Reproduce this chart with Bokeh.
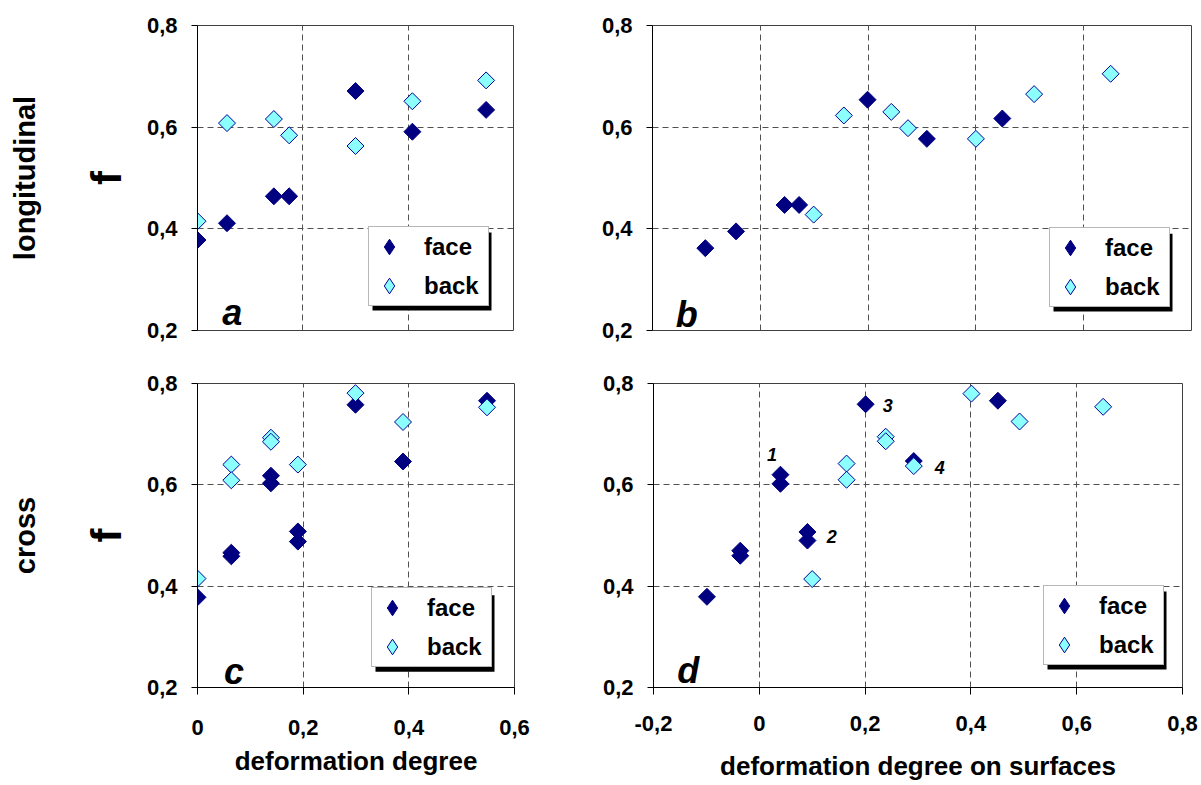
import math
from bokeh.plotting import figure
from bokeh.models import (Range1d, FixedTicker, CustomJSTickFormatter, Legend, LegendItem,
                          Label, BoxAnnotation, CDSView, IndexFilter, ColumnDataSource,
                          LinearAxis)
from bokeh.layouts import column, row
from bokeh.embed import file_html
from bokeh.resources import INLINE

FONT = "Liberation Sans"

# ---------------- data ----------------
# panel a : longitudinal, f vs deformation degree
a_face_x = [0.0, 0.056, 0.145, 0.174, 0.300, 0.408, 0.548]
a_face_y = [0.378, 0.411, 0.464, 0.464, 0.671, 0.591, 0.634]
a_back_x = [0.0, 0.056, 0.145, 0.174, 0.300, 0.408, 0.548]
a_back_y = [0.415, 0.608, 0.616, 0.584, 0.563, 0.651, 0.692]

# panel b : longitudinal, f vs deformation degree on surfaces
b_face_x = [-0.102, -0.045, 0.045, 0.072, 0.199, 0.309, 0.449]
b_face_y = [0.362, 0.395, 0.447, 0.447, 0.654, 0.577, 0.617]
b_back_x = [0.099, 0.155, 0.243, 0.274, 0.400, 0.508, 0.650]
b_back_y = [0.428, 0.623, 0.630, 0.598, 0.577, 0.665, 0.705]

# panel c : cross, f vs deformation degree
c_face_x = [0.0, 0.064, 0.064, 0.139, 0.139, 0.190, 0.190, 0.299, 0.389, 0.548]
c_face_y = [0.378, 0.466, 0.459, 0.618, 0.603, 0.508, 0.488, 0.758, 0.646, 0.766]
c_back_x = [0.0, 0.064, 0.064, 0.139, 0.139, 0.190, 0.299, 0.389, 0.548]
c_back_y = [0.415, 0.640, 0.609, 0.693, 0.685, 0.640, 0.781, 0.724, 0.753]

# panel d : cross, f vs deformation degree on surfaces
d_face_x = [-0.099, -0.036, -0.036, 0.040, 0.040, 0.091, 0.091, 0.201, 0.292, 0.451]
d_face_y = [0.379, 0.470, 0.460, 0.620, 0.602, 0.507, 0.490, 0.759, 0.647, 0.766]
d_back_x = [0.100, 0.165, 0.165, 0.239, 0.239, 0.292, 0.401, 0.492, 0.650]
d_back_y = [0.414, 0.642, 0.610, 0.695, 0.686, 0.637, 0.780, 0.725, 0.754]

# point-group annotations in panel d
d_note_text = ["1", "2", "3", "4"]
d_note_x = [0.024, 0.137, 0.243, 0.341]
d_note_y = [0.660, 0.498, 0.756, 0.635]

y_ticks = [0.2, 0.4, 0.6, 0.8]
x_ticks_ac = [0.0, 0.2, 0.4, 0.6]
x_ticks_bd = [-0.2, 0.0, 0.2, 0.4, 0.6, 0.8]

FACE_FILL = "#000080"
FACE_LINE = "#000080"
BACK_FILL = "#8CFFFF"
BACK_LINE = "#000099"


def fmt():
    return CustomJSTickFormatter(
        code="if (Math.abs(tick) < 1e-9) { return '0'; } return tick.toFixed(1).replace('.', ',');")


def panel(width, height, mb, xr, xticks, fx, fy, bx, by, leg_loc, letter, letter_xy,
          show_x, xlabel=None, ylabel=None, row_title=None, row_title_standoff=39,
          tick_standoff=16, label_standoff=14):
    ml, mr, mt, mbot = mb
    p = figure(width=width, height=height, x_range=Range1d(*xr), y_range=Range1d(0.2, 0.8),
               output_backend="svg", toolbar_location=None,
               min_border_left=ml, min_border_right=mr, min_border_top=mt, min_border_bottom=mbot)
    p.background_fill_color = "white"
    p.border_fill_color = "white"
    p.outline_line_color = "#404040"
    p.outline_line_width = 1

    for g in (p.xgrid[0], p.ygrid[0]):
        g.grid_line_color = "#505050"
        g.grid_line_dash = "6 4"
        g.grid_line_width = 1
    p.xgrid[0].ticker = FixedTicker(ticks=xticks)
    p.ygrid[0].ticker = FixedTicker(ticks=y_ticks)

    ya = p.yaxis[0]
    ya.ticker = FixedTicker(ticks=y_ticks)
    ya.formatter = fmt()
    ya.major_tick_out = 6
    ya.major_tick_in = 0
    ya.minor_tick_out = 0
    ya.minor_tick_in = 0
    ya.major_label_standoff = 14
    ya.major_label_text_font = FONT
    ya.major_label_text_font_size = "22px"
    ya.major_label_text_font_style = "bold"
    ya.major_label_text_color = "black"
    ya.axis_line_color = "black"
    if ylabel:
        ya.axis_label = ylabel
        ya.axis_label_text_font = FONT
        ya.axis_label_text_font_size = "42px"
        ya.axis_label_text_font_style = "bold"
        ya.axis_label_text_color = "black"
        ya.axis_label_standoff = 14

    if row_title:
        ex = LinearAxis(axis_label=row_title, ticker=FixedTicker(ticks=[]),
                        axis_line_color=None, major_tick_out=0, major_tick_in=0,
                        minor_tick_out=0, minor_tick_in=0,
                        major_label_text_font_size="0px",
                        axis_label_standoff=row_title_standoff,
                        axis_label_text_font=FONT, axis_label_text_font_size="29px",
                        axis_label_text_font_style="bold", axis_label_text_color="black")
        p.add_layout(ex, "left")

    xa = p.xaxis[0]
    if show_x:
        xa.ticker = FixedTicker(ticks=xticks)
        xa.formatter = fmt()
        xa.major_tick_out = 7
        xa.major_tick_in = 0
        xa.minor_tick_out = 0
        xa.minor_tick_in = 0
        xa.major_label_standoff = tick_standoff
        xa.major_label_text_font = FONT
        xa.major_label_text_font_size = "22px"
        xa.major_label_text_font_style = "bold"
        xa.major_label_text_color = "black"
        xa.axis_line_color = "black"
        if xlabel:
            xa.axis_label = xlabel
            xa.axis_label_text_font = FONT
            xa.axis_label_text_font_size = "26px"
            xa.axis_label_text_font_style = "bold"
            xa.axis_label_text_color = "black"
            xa.axis_label_standoff = label_standoff
    else:
        xa.visible = False

    # legend swatches: diamond shaped; only the first point is kept, hidden under the markers
    lf = p.scatter(source=ColumnDataSource(dict(x=fx, y=fy)), x="x", y="y",
                   view=CDSView(filter=IndexFilter(indices=[0])), marker="diamond", size=3,
                   fill_color=FACE_FILL, line_color=FACE_LINE, line_width=1)
    lb = p.scatter(source=ColumnDataSource(dict(x=bx, y=by)), x="x", y="y",
                   view=CDSView(filter=IndexFilter(indices=[0])), marker="diamond", size=3,
                   fill_color=BACK_FILL, line_color=BACK_LINE, line_width=1)

    rf = p.scatter(fx, fy, marker="square", size=12, angle=math.pi / 4,
                   fill_color=FACE_FILL, line_color=FACE_LINE, line_width=1)
    rb = p.scatter(bx, by, marker="square", size=12, angle=math.pi / 4,
                   fill_color=BACK_FILL, line_color=BACK_LINE, line_width=1)

    fw = width - ml - mr
    fh = height - mt - mbot
    def px2x(px):
        return xr[0] + px * (xr[1] - xr[0]) / fw
    def px2y(py):
        return 0.2 + py * 0.6 / fh

    lw, lh = 119, 78
    sh = 4
    p.add_layout(BoxAnnotation(left=px2x(leg_loc[0] + sh), right=px2x(leg_loc[0] + lw + sh),
                               bottom=px2y(leg_loc[1] - sh), top=px2y(leg_loc[1] + lh - sh),
                               fill_color="black", fill_alpha=1, line_color=None))

    legend = Legend(items=[LegendItem(label="face", renderers=[lf]),
                           LegendItem(label="back", renderers=[lb])],
                    location=leg_loc, margin=0, padding=0, spacing=0,
                    label_height=28, glyph_height=39, glyph_width=40, label_standoff=15,
                    label_width=64,
                    label_text_font=FONT, label_text_font_size="24px",
                    label_text_font_style="bold", label_text_color="black",
                    border_line_color="#6f6f6f", border_line_width=1,
                    background_fill_color="white", background_fill_alpha=1)
    p.add_layout(legend)

    p.add_layout(Label(x=letter_xy[0], y=letter_xy[1], text=letter,
                       text_font=FONT, text_font_size="36px", text_font_style="bold italic",
                       text_color="black", text_align="left", text_baseline="alphabetic"))
    return p


pa = panel(565, 350, (197, 52, 25, 20), (0.0, 0.6), x_ticks_ac,
           a_face_x, a_face_y, a_back_x, a_back_y, (171, 24), "a", (0.047, 0.235),
           show_x=False, ylabel="f", row_title="longitudinal")

pb = panel(635, 350, (87, 9, 24, 20), (-0.2, 0.8), x_ticks_bd,
           b_face_x, b_face_y, b_back_x, b_back_y, (397, 23), "b", (-0.157, 0.232),
           show_x=False)

pc = panel(565, 434, (197, 51, 33, 91), (0.0, 0.6), x_ticks_ac,
           c_face_x, c_face_y, c_back_x, c_back_y, (174, 20), "c", (0.050, 0.231),
           show_x=True, xlabel="deformation degree", ylabel="f", row_title="cross",
           tick_standoff=25, label_standoff=8)

pd_ = panel(635, 434, (88, 18, 33, 97), (-0.2, 0.8), x_ticks_bd,
            d_face_x, d_face_y, d_back_x, d_back_y, (390, 22), "d", (-0.155, 0.233),
            show_x=True, xlabel="deformation degree on surfaces",
            tick_standoff=21, label_standoff=17)

for t, x, y in zip(d_note_text, d_note_x, d_note_y):
    pd_.add_layout(Label(x=x, y=y, text=t, text_font=FONT, text_font_size="18px",
                         text_font_style="bold italic", text_color="black",
                         text_align="center", text_baseline="middle"))

layout = column(row(pa, pb, spacing=0), row(pc, pd_, spacing=0), spacing=0)

open("out.html", "w").write(file_html(layout, INLINE))
